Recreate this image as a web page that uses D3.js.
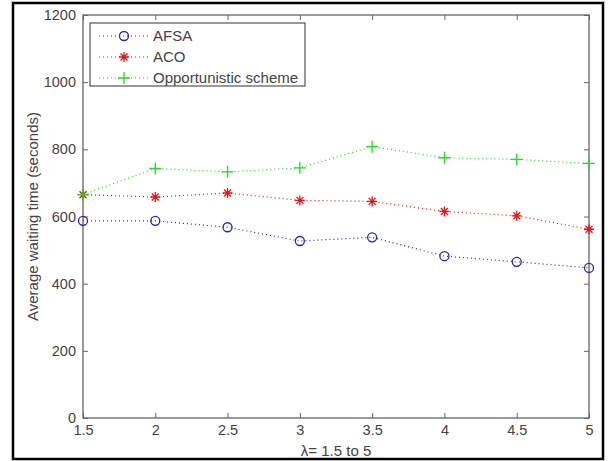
<!DOCTYPE html>
<html><head><meta charset="utf-8">
<script src="https://cdn.jsdelivr.net/npm/d3@7"></script>
<style>body{margin:0;background:#fff}svg{display:block}</style>
</head><body>
<script>
const xValues = [1.5, 2, 2.5, 3, 3.5, 4, 4.5, 5];
const afsa = [587, 587, 568, 527, 538, 482, 465, 447];
const aco = [665, 658, 670, 648, 645, 615, 602, 562];
const opp = [665, 743, 733, 745, 808, 775, 770, 758];
const seriesNames = ["AFSA", "ACO", "Opportunistic scheme"];
const xTicks = [1.5, 2, 2.5, 3, 3.5, 4, 4.5, 5];
const yTicks = [0, 200, 400, 600, 800, 1000, 1200];

const W = 608, H = 461;
const L = 83, R = 589, T = 15, B = 418;
const svg = d3.select("body").append("svg").attr("width", W).attr("height", H)
  .style("font-family", "Liberation Sans, Arial, sans-serif");

svg.append("rect").attr("x", 13).attr("y", 3).attr("width", 590).attr("height", 456)
  .attr("fill", "#fff").attr("stroke", "#000").attr("stroke-width", 2.5);

const x = d3.scaleLinear().domain([1.5, 5]).range([L, R]);
const y = d3.scaleLinear().domain([0, 1200]).range([B, T]);

const axisColor = "#666";
const textColor = "#444";
const fs = "14.5px";
function styleAxis(g) {
  g.select(".domain").remove();
  g.selectAll(".tick line").attr("stroke", axisColor);
  g.selectAll(".tick text").attr("fill", textColor).style("font-size", fs);
}
svg.append("g").attr("transform", `translate(0,${B})`)
  .call(d3.axisBottom(x).tickValues(xTicks).tickFormat(d3.format("")).tickSizeInner(-5).tickSizeOuter(0).tickPadding(7))
  .call(styleAxis);
svg.append("g").attr("transform", `translate(0,${T})`)
  .call(d3.axisTop(x).tickValues(xTicks).tickFormat("").tickSizeInner(-5).tickSizeOuter(0))
  .call(styleAxis);
svg.append("g").attr("transform", `translate(${L},0)`)
  .call(d3.axisLeft(y).tickValues(yTicks).tickFormat(d3.format("")).tickSizeInner(-5).tickSizeOuter(0).tickPadding(7))
  .call(styleAxis);
svg.append("g").attr("transform", `translate(${R},0)`)
  .call(d3.axisRight(y).tickValues(yTicks).tickFormat("").tickSizeInner(-5).tickSizeOuter(0))
  .call(styleAxis);
svg.append("rect").attr("x", L).attr("y", T).attr("width", R - L).attr("height", B - T)
  .attr("fill", "none").attr("stroke", axisColor).attr("stroke-width", 1.3);

const colors = ["#2222cc", "#ee1111", "#22dd22"];
const data = [afsa, aco, opp];
const line = d3.line().x((d, i) => x(xValues[i])).y(d => y(d));

function marker(g, k, cx, cy) {
  const c = colors[k];
  if (k === 0) {
    g.append("circle").attr("cx", cx).attr("cy", cy).attr("r", 4.5).attr("fill", "none").attr("stroke", c).attr("stroke-width", 1.3);
  } else if (k === 1) {
    const s = 5;
    const p = `M${cx - s},${cy}H${cx + s}M${cx},${cy - s}V${cy + s}M${cx - s * 0.7},${cy - s * 0.7}L${cx + s * 0.7},${cy + s * 0.7}M${cx - s * 0.7},${cy + s * 0.7}L${cx + s * 0.7},${cy - s * 0.7}`;
    g.append("path").attr("d", p).attr("stroke", c).attr("stroke-width", 1.3).attr("fill", "none");
  } else {
    const s = 6;
    g.append("path").attr("d", `M${cx - s},${cy}H${cx + s}M${cx},${cy - s}V${cy + s}`).attr("stroke", c).attr("stroke-width", 1.3).attr("fill", "none");
  }
}

data.forEach((vals, k) => {
  svg.append("path").datum(vals).attr("d", line).attr("fill", "none")
    .attr("stroke", colors[k]).attr("stroke-width", 1.2).attr("stroke-dasharray", "1,3");
  const g = svg.append("g");
  vals.forEach((v, i) => marker(g, k, x(xValues[i]), y(v)));
});

// legend
const lg = svg.append("g");
lg.append("rect").attr("x", 90).attr("y", 23).attr("width", 215).attr("height", 63)
  .attr("fill", "#fff").attr("stroke", "#333").attr("stroke-width", 1);
seriesNames.forEach((n, k) => {
  const ly = 36 + k * 21;
  lg.append("line").attr("x1", 99).attr("x2", 148).attr("y1", ly).attr("y2", ly)
    .attr("stroke", colors[k]).attr("stroke-width", 1.2).attr("stroke-dasharray", "1,3");
  marker(lg, k, 124, ly);
  lg.append("text").attr("x", 153).attr("y", ly + 5).text(n).attr("fill", textColor).style("font-size", "15px");
});

svg.append("text").attr("x", L + (R - L) / 2).attr("y", 456).attr("text-anchor", "middle")
  .attr("fill", textColor).style("font-size", "15px").text("λ= 1.5 to 5");
svg.append("text").attr("transform", `translate(38,${(T + B) / 2}) rotate(-90)`).attr("text-anchor", "middle")
  .attr("fill", textColor).style("font-size", "15px").text("Average waiting time (seconds)");
</script>
</body></html>
